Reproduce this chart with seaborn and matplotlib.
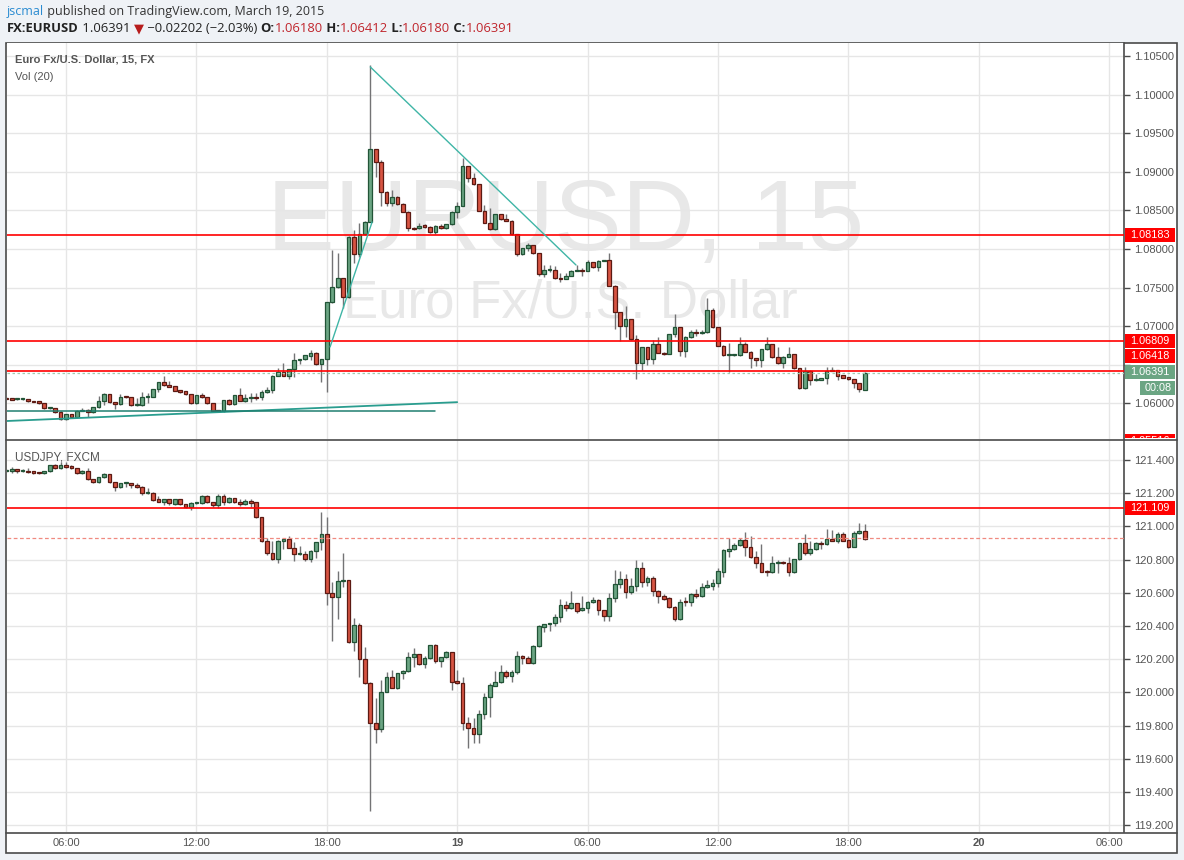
import numpy as np
import pandas as pd
import matplotlib
matplotlib.use("Agg")
import matplotlib.pyplot as plt
import matplotlib.dates as mdates
from matplotlib.patches import Rectangle
from matplotlib.lines import Line2D
from matplotlib.transforms import IdentityTransform, Bbox
import seaborn as sns

# EUR/USD 15 minute candles, 2015-03-18 03:15 -> 2015-03-19 18:45
eur_open = [
    1.06075, 1.06066, 1.06058, 1.06053, 1.06053, 1.06027, 1.06027, 1.06005, 1.05936, 1.05936,
    1.05893, 1.05794, 1.05859, 1.05820, 1.05906, 1.05919, 1.05884, 1.05949, 1.06027, 1.06122,
    1.06018, 1.05988, 1.06096, 1.06079, 1.05975, 1.05975, 1.06079, 1.06088, 1.06183, 1.06273,
    1.06234, 1.06221, 1.06174, 1.06161, 1.06118, 1.06001, 1.06105, 1.06079, 1.06001, 1.05915,
    1.05897, 1.06045, 1.05989, 1.06109, 1.06036, 1.06066, 1.06088, 1.06079, 1.06152, 1.06174,
    1.06360, 1.06411, 1.06360, 1.06442, 1.06558, 1.06571, 1.06618, 1.06649, 1.06507, 1.06576,
    1.07310, 1.07504, 1.07620, 1.07374, 1.08160, 1.07931, 1.08190, 1.08354, 1.09291, 1.09131,
    1.08734, 1.08592, 1.08669, 1.08579, 1.08484, 1.08277, 1.08268, 1.08311, 1.08281, 1.08216,
    1.08303, 1.08268, 1.08320, 1.08477, 1.08557, 1.09075, 1.08916, 1.08838, 1.08497, 1.08341,
    1.08255, 1.08449, 1.08385, 1.08363, 1.08190, 1.07931, 1.08009, 1.08048, 1.07944, 1.07672,
    1.07724, 1.07724, 1.07620, 1.07612, 1.07651, 1.07715, 1.07728, 1.07715, 1.07828, 1.07763,
    1.07850, 1.07858, 1.07526, 1.07180, 1.07003, 1.07090, 1.06830, 1.06520, 1.06727, 1.06572,
    1.06766, 1.06658, 1.06641, 1.06895, 1.06986, 1.06684, 1.06865, 1.06921, 1.06908, 1.06921,
    1.07210, 1.06986, 1.06748, 1.06623, 1.06623, 1.06623, 1.06766, 1.06671, 1.06585, 1.06563,
    1.06701, 1.06766, 1.06597, 1.06520, 1.06606, 1.06636, 1.06455, 1.06196, 1.06425, 1.06304,
    1.06304, 1.06326, 1.06425, 1.06433, 1.06369, 1.06339, 1.06313, 1.06261, 1.06180]
eur_high = [
    1.06085, 1.06075, 1.06070, 1.06062, 1.06058, 1.06032, 1.06032, 1.06010, 1.05958, 1.05940,
    1.05906, 1.05868, 1.05863, 1.05910, 1.05936, 1.05923, 1.05953, 1.06096, 1.06131, 1.06126,
    1.06022, 1.06118, 1.06100, 1.06083, 1.06066, 1.06144, 1.06131, 1.06187, 1.06277, 1.06356,
    1.06291, 1.06225, 1.06178, 1.06165, 1.06122, 1.06109, 1.06131, 1.06083, 1.06005, 1.05919,
    1.06049, 1.06053, 1.06113, 1.06196, 1.06120, 1.06131, 1.06131, 1.06174, 1.06217, 1.06368,
    1.06455, 1.06519, 1.06446, 1.06649, 1.06575, 1.06631, 1.06692, 1.06666, 1.06580, 1.07314,
    1.07987, 1.07944, 1.07624, 1.08164, 1.08246, 1.08341, 1.08358, 1.10383, 1.09295, 1.09153,
    1.08755, 1.08764, 1.08690, 1.08592, 1.08488, 1.08281, 1.08341, 1.08324, 1.08303, 1.08307,
    1.08324, 1.08324, 1.08488, 1.08613, 1.09175, 1.09079, 1.08980, 1.08842, 1.08570, 1.08527,
    1.08458, 1.08454, 1.08454, 1.08376, 1.08194, 1.08013, 1.08074, 1.08052, 1.07948, 1.07789,
    1.07789, 1.07780, 1.07685, 1.07685, 1.07728, 1.07793, 1.07750, 1.07858, 1.07832, 1.07862,
    1.07862, 1.07944, 1.07530, 1.07184, 1.07262, 1.07094, 1.06887, 1.06731, 1.06731, 1.06822,
    1.06857, 1.06662, 1.06899, 1.07159, 1.06990, 1.06869, 1.06951, 1.06960, 1.06951, 1.07362,
    1.07232, 1.06990, 1.06752, 1.06779, 1.06640, 1.06865, 1.06800, 1.06675, 1.06589, 1.06705,
    1.06865, 1.06770, 1.06736, 1.06610, 1.06727, 1.06640, 1.06459, 1.06468, 1.06429, 1.06382,
    1.06330, 1.06477, 1.06477, 1.06437, 1.06373, 1.06343, 1.06317, 1.06265, 1.06412]
eur_low = [
    1.06055, 1.06045, 1.06044, 1.06048, 1.06022, 1.06015, 1.05998, 1.05928, 1.05932, 1.05880,
    1.05790, 1.05790, 1.05816, 1.05816, 1.05902, 1.05828, 1.05880, 1.05945, 1.05980, 1.06010,
    1.05928, 1.05984, 1.06075, 1.05971, 1.05971, 1.05971, 1.06010, 1.06084, 1.06153, 1.06230,
    1.06213, 1.06161, 1.06131, 1.06114, 1.05997, 1.05997, 1.06075, 1.05997, 1.05902, 1.05893,
    1.05893, 1.05985, 1.05985, 1.06032, 1.06020, 1.06023, 1.06045, 1.06050, 1.06131, 1.06140,
    1.06356, 1.06356, 1.06312, 1.06347, 1.06511, 1.06567, 1.06563, 1.06503, 1.06274, 1.06153,
    1.07300, 1.07500, 1.07232, 1.07370, 1.07823, 1.07901, 1.08186, 1.08350, 1.08937, 1.08561,
    1.08561, 1.08561, 1.08575, 1.08480, 1.08238, 1.08247, 1.08264, 1.08277, 1.08212, 1.08195,
    1.08264, 1.08264, 1.08316, 1.08400, 1.08553, 1.08873, 1.08834, 1.08493, 1.08337, 1.08251,
    1.08246, 1.08381, 1.08359, 1.08186, 1.07914, 1.07927, 1.07974, 1.07940, 1.07655, 1.07640,
    1.07707, 1.07616, 1.07577, 1.07608, 1.07647, 1.07711, 1.07655, 1.07711, 1.07759, 1.07720,
    1.07846, 1.07522, 1.06960, 1.06809, 1.06865, 1.06826, 1.06313, 1.06433, 1.06498, 1.06511,
    1.06654, 1.06628, 1.06637, 1.06865, 1.06615, 1.06606, 1.06844, 1.06873, 1.06895, 1.06917,
    1.06982, 1.06744, 1.06619, 1.06403, 1.06610, 1.06619, 1.06667, 1.06455, 1.06485, 1.06477,
    1.06697, 1.06593, 1.06516, 1.06455, 1.06602, 1.06451, 1.06183, 1.06192, 1.06239, 1.06295,
    1.06300, 1.06252, 1.06421, 1.06304, 1.06330, 1.06309, 1.06196, 1.06144, 1.06180]
eur_close = [
    1.06058, 1.06049, 1.06058, 1.06055, 1.06027, 1.06019, 1.06001, 1.05936, 1.05940, 1.05884,
    1.05794, 1.05863, 1.05820, 1.05906, 1.05915, 1.05884, 1.05949, 1.06027, 1.06122, 1.06014,
    1.05988, 1.06088, 1.06079, 1.05975, 1.05975, 1.06079, 1.06088, 1.06183, 1.06273, 1.06234,
    1.06217, 1.06165, 1.06152, 1.06118, 1.06001, 1.06105, 1.06079, 1.06001, 1.05906, 1.05897,
    1.06040, 1.05989, 1.06109, 1.06036, 1.06066, 1.06088, 1.06075, 1.06152, 1.06174, 1.06360,
    1.06411, 1.06360, 1.06442, 1.06558, 1.06571, 1.06627, 1.06653, 1.06507, 1.06576, 1.07310,
    1.07504, 1.07620, 1.07374, 1.08160, 1.07931, 1.08190, 1.08354, 1.09291, 1.09131, 1.08734,
    1.08592, 1.08669, 1.08579, 1.08484, 1.08277, 1.08260, 1.08303, 1.08281, 1.08216, 1.08303,
    1.08268, 1.08320, 1.08484, 1.08557, 1.09075, 1.08916, 1.08838, 1.08497, 1.08341, 1.08255,
    1.08449, 1.08385, 1.08363, 1.08190, 1.07931, 1.08009, 1.08048, 1.07944, 1.07672, 1.07724,
    1.07728, 1.07620, 1.07607, 1.07651, 1.07715, 1.07728, 1.07715, 1.07828, 1.07763, 1.07850,
    1.07858, 1.07526, 1.07180, 1.07003, 1.07090, 1.06830, 1.06520, 1.06727, 1.06572, 1.06766,
    1.06658, 1.06641, 1.06895, 1.06986, 1.06684, 1.06865, 1.06921, 1.06908, 1.06921, 1.07210,
    1.06986, 1.06748, 1.06623, 1.06623, 1.06627, 1.06766, 1.06671, 1.06585, 1.06563, 1.06701,
    1.06766, 1.06597, 1.06520, 1.06606, 1.06636, 1.06455, 1.06196, 1.06425, 1.06304, 1.06304,
    1.06326, 1.06425, 1.06433, 1.06360, 1.06334, 1.06313, 1.06261, 1.06183, 1.06391]

# USD/JPY (FXCM), same candles
jpy_open = [
    121.336, 121.331, 121.344, 121.331, 121.336, 121.331, 121.323, 121.319, 121.331, 121.368,
    121.350, 121.368, 121.364, 121.350, 121.319, 121.331, 121.283, 121.265, 121.295, 121.313,
    121.265, 121.235, 121.259, 121.259, 121.247, 121.235, 121.199, 121.199, 121.163, 121.149,
    121.163, 121.135, 121.163, 121.133, 121.119, 121.139, 121.139, 121.183, 121.145, 121.129,
    121.183, 121.145, 121.169, 121.145, 121.133, 121.151, 121.145, 121.054, 120.910, 120.842,
    120.801, 120.912, 120.922, 120.872, 120.832, 120.832, 120.801, 120.852, 120.904, 120.952,
    120.597, 120.576, 120.671, 120.675, 120.305, 120.406, 120.203, 120.054, 119.817, 119.781,
    120.004, 120.091, 120.028, 120.115, 120.129, 120.211, 120.229, 120.173, 120.205, 120.283,
    120.191, 120.211, 120.241, 120.067, 120.055, 119.814, 119.784, 119.748, 119.868, 119.970,
    120.041, 120.061, 120.121, 120.101, 120.121, 120.219, 120.205, 120.179, 120.280, 120.396,
    120.410, 120.416, 120.452, 120.527, 120.507, 120.537, 120.497, 120.507, 120.545, 120.557,
    120.495, 120.462, 120.567, 120.651, 120.681, 120.607, 120.641, 120.747, 120.667, 120.687,
    120.613, 120.583, 120.567, 120.513, 120.440, 120.549, 120.543, 120.591, 120.583, 120.633,
    120.643, 120.657, 120.727, 120.854, 120.862, 120.888, 120.918, 120.878, 120.818, 120.778,
    120.733, 120.723, 120.778, 120.786, 120.778, 120.727, 120.802, 120.898, 120.838, 120.862,
    120.902, 120.892, 120.922, 120.914, 120.952, 120.918, 120.878, 120.958, 120.974]
jpy_high = [
    121.345, 121.356, 121.348, 121.344, 121.352, 121.335, 121.327, 121.335, 121.372, 121.376,
    121.390, 121.390, 121.370, 121.354, 121.340, 121.350, 121.287, 121.299, 121.319, 121.317,
    121.269, 121.263, 121.269, 121.263, 121.259, 121.243, 121.229, 121.209, 121.183, 121.167,
    121.167, 121.167, 121.167, 121.137, 121.149, 121.145, 121.189, 121.187, 121.149, 121.195,
    121.195, 121.179, 121.173, 121.163, 121.163, 121.163, 121.149, 121.058, 120.928, 120.912,
    120.916, 120.928, 120.942, 120.908, 120.882, 120.852, 120.856, 120.908, 121.089, 121.058,
    120.667, 120.731, 120.842, 120.679, 120.446, 120.416, 120.275, 120.064, 119.964, 120.074,
    120.125, 120.135, 120.119, 120.133, 120.245, 120.265, 120.233, 120.219, 120.287, 120.291,
    120.215, 120.251, 120.245, 120.135, 120.095, 119.854, 119.844, 119.894, 119.994, 120.059,
    120.129, 120.165, 120.135, 120.135, 120.250, 120.223, 120.219, 120.286, 120.404, 120.414,
    120.420, 120.470, 120.563, 120.553, 120.611, 120.541, 120.581, 120.549, 120.573, 120.561,
    120.499, 120.601, 120.737, 120.731, 120.713, 120.687, 120.798, 120.788, 120.701, 120.701,
    120.617, 120.591, 120.577, 120.520, 120.561, 120.577, 120.601, 120.621, 120.657, 120.677,
    120.681, 120.747, 120.862, 120.928, 120.898, 120.928, 120.968, 120.942, 120.854, 120.894,
    120.737, 120.822, 120.800, 120.790, 120.818, 120.806, 120.902, 120.954, 120.914, 120.904,
    120.914, 120.982, 120.978, 120.968, 120.968, 120.922, 120.970, 121.018, 121.014]
jpy_low = [
    121.330, 121.323, 121.323, 121.327, 121.323, 121.315, 121.315, 121.315, 121.327, 121.346,
    121.344, 121.350, 121.346, 121.315, 121.315, 121.279, 121.261, 121.259, 121.291, 121.259,
    121.215, 121.229, 121.239, 121.229, 121.229, 121.189, 121.195, 121.155, 121.145, 121.129,
    121.129, 121.131, 121.129, 121.109, 121.099, 121.135, 121.135, 121.141, 121.119, 121.109,
    121.129, 121.141, 121.141, 121.125, 121.129, 121.119, 121.050, 120.906, 120.827, 120.797,
    120.781, 120.864, 120.868, 120.791, 120.828, 120.791, 120.787, 120.807, 120.858, 120.526,
    120.311, 120.442, 120.637, 120.299, 120.249, 120.095, 120.050, 119.287, 119.693, 119.763,
    120.000, 120.024, 120.020, 120.078, 120.125, 120.151, 120.167, 120.149, 120.201, 120.179,
    120.155, 120.207, 120.015, 120.051, 119.774, 119.667, 119.697, 119.697, 119.838, 119.854,
    120.037, 120.057, 120.085, 120.065, 120.109, 120.169, 120.175, 120.171, 120.276, 120.366,
    120.372, 120.402, 120.426, 120.492, 120.503, 120.476, 120.493, 120.480, 120.541, 120.467,
    120.432, 120.432, 120.547, 120.631, 120.571, 120.591, 120.613, 120.637, 120.643, 120.583,
    120.537, 120.559, 120.509, 120.432, 120.436, 120.523, 120.521, 120.571, 120.573, 120.629,
    120.617, 120.633, 120.697, 120.818, 120.858, 120.884, 120.824, 120.808, 120.747, 120.723,
    120.703, 120.719, 120.720, 120.774, 120.703, 120.717, 120.798, 120.828, 120.828, 120.858,
    120.864, 120.888, 120.910, 120.898, 120.910, 120.868, 120.874, 120.954, 120.918]
jpy_close = [
    121.340, 121.344, 121.331, 121.340, 121.329, 121.319, 121.319, 121.331, 121.368, 121.350,
    121.368, 121.360, 121.350, 121.319, 121.331, 121.283, 121.265, 121.295, 121.313, 121.265,
    121.235, 121.259, 121.259, 121.247, 121.235, 121.199, 121.199, 121.159, 121.149, 121.163,
    121.139, 121.163, 121.133, 121.119, 121.139, 121.141, 121.183, 121.145, 121.129, 121.183,
    121.145, 121.169, 121.145, 121.133, 121.153, 121.143, 121.054, 120.910, 120.842, 120.801,
    120.912, 120.924, 120.872, 120.832, 120.834, 120.801, 120.852, 120.904, 120.952, 120.597,
    120.576, 120.671, 120.675, 120.305, 120.406, 120.203, 120.054, 119.817, 119.781, 120.004,
    120.091, 120.028, 120.115, 120.129, 120.211, 120.231, 120.173, 120.205, 120.283, 120.191,
    120.211, 120.241, 120.064, 120.055, 119.814, 119.784, 119.748, 119.868, 119.970, 120.045,
    120.061, 120.121, 120.101, 120.121, 120.219, 120.205, 120.179, 120.280, 120.400, 120.410,
    120.416, 120.452, 120.527, 120.507, 120.537, 120.493, 120.507, 120.545, 120.557, 120.495,
    120.462, 120.567, 120.651, 120.681, 120.607, 120.641, 120.747, 120.667, 120.687, 120.613,
    120.583, 120.563, 120.513, 120.440, 120.547, 120.543, 120.591, 120.583, 120.633, 120.647,
    120.657, 120.731, 120.858, 120.862, 120.888, 120.918, 120.878, 120.818, 120.778, 120.727,
    120.723, 120.778, 120.786, 120.778, 120.727, 120.802, 120.898, 120.838, 120.862, 120.898,
    120.892, 120.922, 120.914, 120.952, 120.914, 120.878, 120.958, 120.974, 120.922]

# horizontal levels and drawings
eur_levels = [1.08183, 1.06809, 1.06418]
eur_last = 1.06391
eur_offscreen_level = 1.05516
jpy_level = 121.109
jpy_last = 120.928

down_line_t = ["2015-03-18 20:00", "2015-03-19 05:28"]
down_line_p = [1.10358, 1.07793]
up_line_t = ["2015-03-18 18:09", "2015-03-18 20:05"]
up_line_p = [1.06732, 1.08350]
support_t = ["2015-03-18 03:17", "2015-03-19 00:00"]
support_p = [1.05773, 1.06017]
flat_t = ["2015-03-18 03:17", "2015-03-18 22:59"]
flat_p = [1.05903, 1.05903]

tick_times = ["2015-03-18 06:00", "2015-03-18 12:00", "2015-03-18 18:00", "2015-03-19 00:00",
              "2015-03-19 06:00", "2015-03-19 12:00", "2015-03-19 18:00", "2015-03-20 00:00",
              "2015-03-20 06:00"]
tick_labels = ["06:00", "12:00", "18:00", "19", "06:00", "12:00", "18:00", "20", "06:00"]

UP, UP_EDGE = "#6ba583", "#225437"
DOWN, DOWN_EDGE = "#d75442", "#5b1a13"
WICK = "#737375"
FRAME = "#4a4a4a"

sns.set_theme(style="white")
plt.rcParams["font.family"] = ["Liberation Sans", "DejaVu Sans"]

W, H = 1184, 860
fig = plt.figure(figsize=(W / 100, H / 100), dpi=100, facecolor="#eff2f6")


def fr(x0, y0, x1, y1):
    return [x0 / W, 1 - y1 / H, (x1 - x0) / W, (y1 - y0) / H]


# chart frame (behind the axes)
fig.patches.append(Rectangle((6 / W, 1 - 853 / H), 1171 / W, 810 / H, transform=fig.transFigure,
                             facecolor="white", edgecolor=FRAME, lw=1.2, zorder=-5))

ax1 = fig.add_axes(fr(7, 43, 1124, 439))
ax2 = fig.add_axes(fr(7, 440, 1124, 832))

times = pd.date_range("2015-03-18 03:15", periods=len(eur_open), freq="15min")
x = mdates.date2num(times.to_pydatetime())
width = 0.17 / 24


def candles(ax, o, h, l, c, min_h):
    o, h, l, c = map(np.asarray, (o, h, l, c))
    up = c >= o
    ax.vlines(x, l, h, color=WICK, lw=1, zorder=2)
    bottom = np.minimum(o, c)
    height = np.maximum(np.abs(c - o), min_h)
    ax.bar(x[up], height[up], bottom=bottom[up], width=width, color=UP,
           edgecolor=UP_EDGE, lw=0.9, zorder=3)
    ax.bar(x[~up], height[~up], bottom=bottom[~up], width=width, color=DOWN,
           edgecolor=DOWN_EDGE, lw=0.9, zorder=3)


def tnum(ts):
    return mdates.date2num(pd.to_datetime(ts).to_pydatetime())


xlim = tnum(["2015-03-18 03:17", "2015-03-20 06:41"])

# watermark
ax1.text(0.5004, 0.477, "EURUSD, 15", transform=ax1.transAxes, ha="center", va="baseline",
         fontsize=73, color="#e8e8e8", zorder=0)
ax1.text(0.504, 0.3056, "Euro Fx/U.S. Dollar", transform=ax1.transAxes, ha="center",
         va="baseline", fontsize=38, color="#e8e8e8", zorder=0)

candles(ax1, eur_open, eur_high, eur_low, eur_close, 0.00012)
candles(ax2, jpy_open, jpy_high, jpy_low, jpy_close, 0.0055)

for lvl in eur_levels:
    ax1.axhline(lvl, color="#ff0000", lw=1.2, zorder=4)
ax1.axhline(eur_last, color="#9fcbb0", lw=0.9, ls=(0, (2, 2)), zorder=4)
ax2.axhline(jpy_level, color="#ff0000", lw=1.2, zorder=4)
ax2.axhline(jpy_last, color="#f08a80", lw=0.9, ls=(0, (3, 2)), zorder=4)

sns.lineplot(x=tnum(down_line_t), y=down_line_p, ax=ax1, color="#3fb5a6", lw=1, zorder=5)
sns.lineplot(x=tnum(up_line_t), y=up_line_p, ax=ax1, color="#3fb5a6", lw=1, zorder=5)
sns.lineplot(x=tnum(support_t), y=support_p, ax=ax1, color="#2a9d8f", lw=1.3, zorder=5)
sns.lineplot(x=tnum(flat_t), y=flat_p, ax=ax1, color="#1f7f70", lw=1.1, zorder=5)

for ax in (ax1, ax2):
    ax.set_facecolor("white")
    for s in ("left", "top", "bottom"):
        ax.spines[s].set_visible(False)
    ax.spines["right"].set_color(FRAME)
    ax.spines["right"].set_linewidth(1.2)
    ax.yaxis.tick_right()
    ax.tick_params(axis="y", right=True, length=4, width=1, color=FRAME,
                   labelcolor="#555555", labelsize=8, pad=3)
    ax.set_xticks(tnum(tick_times))
    ax.set_xlim(xlim)
    ax.grid(True, color="#e6e6e6", lw=1)
    ax.set_axisbelow(True)
    ax.set_xlabel("")
    ax.set_ylabel("")

eur_ticks = np.arange(1.060, 1.1051, 0.005)
ax1.set_ylim(1.05540, 1.10668)
ax1.set_yticks(eur_ticks)
# the 1.06500 label sits under the price tags, so it is left blank
ax1.set_yticklabels(["" if abs(v - 1.065) < 1e-6 else f"{v:.5f}" for v in eur_ticks])
ax1.tick_params(axis="x", length=0, labelbottom=False)

jpy_ticks = np.arange(119.2, 121.41, 0.2)
ax2.set_ylim(119.159, 121.520)
ax2.set_yticks(jpy_ticks)
ax2.set_yticklabels([f"{v:.3f}" for v in jpy_ticks])
ax2.set_xticklabels(tick_labels)
ax2.tick_params(axis="x", length=0, labelsize=8, labelcolor="#555555", pad=4)
for lab in ax2.get_xticklabels():
    if lab.get_text() in ("19", "20"):
        lab.set_fontweight("bold")

# full-width separators
for ytop in (439.5, 832.5):
    fig.add_artist(Line2D([6, 1177], [H - ytop, H - ytop], transform=IdentityTransform(),
                          color=FRAME, lw=1.2, zorder=6))


def tag(ax, price, label, color, dy=0, x0=1125, x1=1175, clip=False):
    yd = ax.transData.transform((0, price))[1] + dy
    r = Rectangle((x0, yd - 7), x1 - x0, 14, transform=IdentityTransform(),
                  facecolor=color, edgecolor="none", zorder=5)
    fig.add_artist(r)
    t = fig.text(x0 + 5, yd, label, transform=IdentityTransform(), color="white",
                 fontsize=7.8, va="center", ha="left", zorder=6)
    if clip:
        pos = ax.get_window_extent()
        box = Bbox([[1120, pos.y0 + 1], [1180, pos.y1]])
        for a in (r, t):
            a.set_clip_box(box)
            a.set_clip_on(True)


tag(ax1, eur_levels[0], "1.08183", "#ff0000")
tag(ax1, eur_levels[1], "1.06809", "#ff0000")
tag(ax1, eur_levels[2], "1.06418", "#ff0000", dy=15)
tag(ax1, eur_last, "1.06391", UP, dy=1)
tag(ax1, eur_last, "00:08", UP, dy=-15, x0=1140)
tag(ax1, eur_offscreen_level, "1.05516", "#ff0000", clip=True)
tag(ax2, jpy_level, "121.109", "#ff0000")

# panel captions
fig.text(15 / W, 1 - 60 / H, "Euro Fx/U.S. Dollar, 15, FX", fontsize=8, fontweight="bold",
         color="#555555", va="center", ha="left")
fig.text(15 / W, 1 - 77 / H, "Vol (20)", fontsize=8, color="#555555", va="center", ha="left")
fig.text(15 / W, 1 - 457 / H, "USDJPY, FXCM", fontsize=8.5, color="#555555", va="center", ha="left")

# header
HEAD_FONT = ["Open Sans", "DejaVu Sans"]


def chain(pieces, x0, ytop, fs):
    prev = None
    for txt, color, weight in pieces:
        if prev is None:
            prev = fig.text(x0 / W, 1 - ytop / H, txt, color=color, fontweight=weight,
                            fontsize=fs, family=HEAD_FONT, va="center", ha="left")
        else:
            prev = ax1.annotate(txt, xy=(1, 0.5), xycoords=prev, va="center", ha="left",
                                color=color, fontweight=weight, fontsize=fs, family=HEAD_FONT,
                                annotation_clip=False)


RED_TXT = "#c0262d"
chain([("jscmal", "#2a8bd1", "normal"),
       (" published on TradingView.com, March 19, 2015", "#333333", "normal")], 7, 11, 9.0)
chain([("FX:EURUSD", "#222222", "bold"), (" 1.06391 ", "#222222", "normal"),
       ("▼", "#b71c1c", "normal"), (" −0.02202 (−2.03%) ", "#222222", "normal"),
       ("O:", "#222222", "bold"), ("1.06180", RED_TXT, "normal"),
       (" H:", "#222222", "bold"), ("1.06412", RED_TXT, "normal"),
       (" L:", "#222222", "bold"), ("1.06180", RED_TXT, "normal"),
       (" C:", "#222222", "bold"), ("1.06391", RED_TXT, "normal")], 7, 29, 9.4)

fig.savefig("out.png", dpi=100, facecolor=fig.get_facecolor())
